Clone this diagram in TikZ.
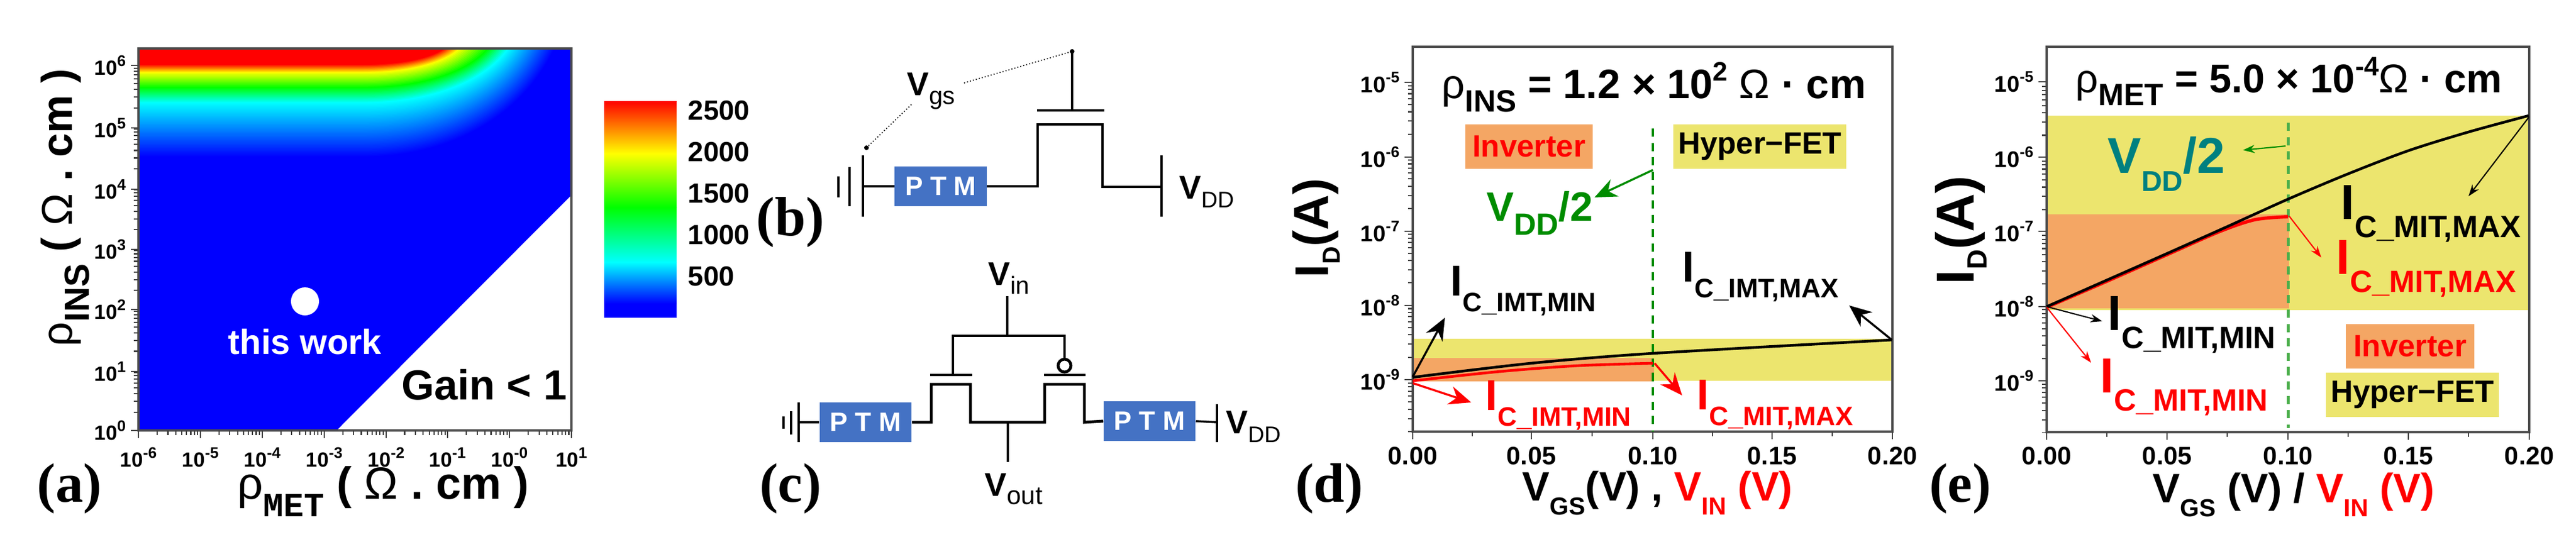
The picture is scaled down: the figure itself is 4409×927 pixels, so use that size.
\documentclass[tikz,border=0pt]{standalone}
\usepackage{fontspec}
\setmainfont{Liberation Sans}
\newfontfamily\timesb{Liberation Serif}
\newfontfamily\monob{Liberation Mono}
\usetikzlibrary{arrows.meta}

\definecolor{ptmblue}{RGB}{68,114,196}
\definecolor{bandyellow}{RGB}{236,229,110}
\definecolor{bandorange}{RGB}{244,166,100}
\definecolor{vgreen}{RGB}{0,140,0}
\definecolor{vteal}{RGB}{0,128,128}

\newcommand{\fsz}[1]{\fontsize{#1}{#1}\selectfont}
\newcommand{\pw}[1]{10\raisebox{0.42em}{\fsz{7.5}#1}}
\newcommand{\bigsub}[5]{{\fsz{#1}#4}\raisebox{-#3}{\fsz{#2}#5}}

\tikzset{
  panel/.style={font=\fsz{27}\timesb\bfseries, inner sep=0pt},
  ticka/.style={font=\fsz{10}\bfseries, inner sep=0pt},
  ticklab/.style={font=\fsz{11}\bfseries, inner sep=0pt},
  xticklab/.style={font=\fsz{12.3}\bfseries, inner sep=0pt},
  cblab/.style={font=\fsz{13.5}\bfseries, anchor=west, inner sep=0pt},
  lab/.style={font=\bfseries, anchor=base west, inner sep=0pt},
  ptm/.style={fill=ptmblue, text=white, font=\fsz{13}\bfseries, inner sep=0pt, minimum width=1.57cm, minimum height=.68cm},
  box/.style={font=\fsz{15}\bfseries, inner sep=0pt, minimum height=.75cm},
  wire/.style={line width=1.4pt, line join=miter},
  tk/.style={line width=.6pt, black!75},
  frame/.style={line width=1pt, black!70},
  fat/.style={line width=1pt, -{Stealth[length=.38cm,width=.32cm]}},
  slim/.style={line width=.6pt, -{Stealth[length=.2cm,width=.14cm]}},
}

\begin{document}
\begin{tikzpicture}[x=0.01cm,y=-0.01cm]
\useasboundingbox (0,0) rectangle (4409,927);

% (a) map
\fill[blue] (237,83) -- (976,83) -- (976,336) -- (576,737) -- (237,737) -- cycle;
\foreach \ya/\xa/\ra/\ga/\ba/\yb/\xb/\rb/\gb/\bb/\nn in {
  270/950/0/0/1/177/871/0/1/1/40,
  177/871/0/1/1/151/837/0/1/0/12,
  151/837/0/1/0/125/788/1/1/0/12,
  125/788/1/1/0/111/761/1/0/0/12}{
  \foreach \ii in {1,...,\nn}{
    \pgfmathsetmacro\tf{\ii/\nn}
    \pgfmathsetmacro\lev{\ya+(\yb-\ya)*\tf}
    \pgfmathsetmacro\xt{\xa+(\xb-\xa)*\tf}
    \pgfmathsetmacro\mr{\ra+(\rb-\ra)*\tf}
    \pgfmathsetmacro\mg{\ga+(\gb-\ga)*\tf}
    \pgfmathsetmacro\mb{\ba+(\bb-\ba)*\tf}
    \definecolor{levcol}{rgb}{\mr,\mg,\mb}
    \pgfmathsetmacro\ca{620+0.48*(\xt-620)}
    \pgfmathsetmacro\cb{\xt-0.16*(\xt-620)}
    \pgfmathsetmacro\cc{83+0.6*(\lev-83)}
    \fill[levcol] (237,83) -- (237,\lev) -- (620,\lev) .. controls (\ca,\lev) and (\cb,\cc) .. (\xt,83) -- cycle;
  }
}
\draw[frame] (237,83) rectangle (978,737);
\begin{scope}
\clip (215,83) rectangle (237,738);
\foreach \k in {0,...,6} \foreach \m in {2,...,9} \draw[tk] (237,{737-104.2*(\k+log10(\m))}) -- ++(-8,0);
\end{scope}
\begin{scope}
\clip (236,737) rectangle (979,760);
\foreach \k in {0,...,6} \foreach \m in {2,...,9} \draw[tk] ({237+105.9*(\k+log10(\m))},737) -- ++(0,8);
\end{scope}
\foreach \e/\yy in {0/737,1/636,2/530,3/427,4/324,5/219,6/112} {
  \draw[tk] (237,\yy) -- ++(-13,0);
  \node[ticka, anchor=east] (ay\e) at (216,\yy) {\pw{\e}};
}
\foreach \e/\xx in {6/237,5/343,4/449,3/555,2/661,1/766,0/872} {
  \draw[tk] (\xx,737) -- ++(0,13);
  \node[ticka] (ax\e) at (\xx,783) {\pw{-\e}};
}
\draw[tk] (978,737) -- ++(0,13);
\node[ticka] (axp) at (978,783) {\pw{1}};
\fill[white] (522,516) circle [radius=24];
\node[font=\fsz{17}\bfseries, text=white, inner sep=0pt] (work) at (522,585) {this work};
\node[font=\fsz{20.5}\bfseries, inner sep=0pt] (gain) at (829,659) {Gain < 1};
\foreach \ya/\yb/\cta/\ctb in {173/263/red/yellow, 263/355/yellow/green, 355/449/green/cyan, 449/520/cyan/blue}
  \shade[top color=\cta, bottom color=\ctb] (1034,\ya) rectangle (1158,\yb);
\fill[blue] (1034,520) rectangle (1158,544);
\foreach \t/\yy in {2500/189,2000/260,1500/331,1000/402,500/473}
  \node[cblab] (cb\t) at (1177,\yy) {\t};
\node[lab, rotate=90] (aylab) at (123,594) {\bigsub{21}{17}{.29cm}{\mdseries ρ}{INS}{\fsz{21} ( \mdseries Ω \bfseries . cm )}};
\node[lab] (axlab) at (406,854) {\bigsub{22}{16.5}{.3cm}{\mdseries ρ}{\monob MET}{\fsz{22} ( \mdseries Ω \bfseries . cm )}};
\node[panel] (pa) at (119,837) {(a)};

% (b) single device
\node[panel] (pb) at (1353,381) {(b)};
\node[ptm] (ptmb) at (1610,319) {P T M};
\coordinate (gatetop) at (1835,88);
\coordinate (gatebot) at (1835,189);
\coordinate (gndb) at (1477,319);
\coordinate (ddb) at (1988,320);
\draw[wire] (gatetop) -- (gatebot);
\draw[wire] (1775,189) -- (1890,189);
\draw[wire] (ptmb.east) -- (1776,319) -- (1776,213) -- (1887,213) -- (1887,320) -- (ddb);
\draw[wire] (gndb) -- (ptmb.west);
\draw[wire] (1988,266) -- (1988,371);
\draw[wire] (1477,266) -- (1477,371);
\draw[wire] (1454,286) -- (1454,353);
\draw[wire] (1435,302) -- (1435,338);
\node[lab] (vgs) at (1552,163) {\bigsub{16}{12}{.15cm}{V}{\mdseries gs}};
\node[lab] (vddb) at (2018,340) {\bigsub{16}{11}{.15cm}{V}{\mdseries DD}};
\coordinate (vgsa) at (1650,142);
\coordinate (vgsb) at (1560,179);
\coordinate (doth) at (1483,253);
\draw[line width=.5pt, densely dotted] (vgsa) -- (gatetop);
\draw[line width=.5pt, densely dotted] (vgsb) -- (doth);
\fill (doth) circle [radius=4];
\fill (gatetop) circle [radius=4];

% (c) inverter
\node[panel] (pc) at (1353,837) {(c)};
\node[ptm] (ptmc) at (1481.5,723) {P T M};
\node[ptm] (ptmd) at (1967.5,721) {P T M};
\node[lab] (vin) at (1691,488) {\bigsub{16}{12}{.15cm}{V}{\mdseries in}};
\node[lab] (vout) at (1685,849) {\bigsub{16}{12.5}{.14cm}{V}{\mdseries out}};
\node[lab] (vddc) at (2098,742) {\bigsub{16}{11}{.15cm}{V}{\mdseries DD}};
\coordinate (incoord) at (1724,507);
\coordinate (injoin) at (1724,575);
\coordinate (outjoin) at (1725,723);
\coordinate (outend) at (1725,791);
\draw[wire] (incoord) -- (injoin);
\draw[wire] (1631,642) -- (1631,575) -- (1822,575) -- (1822,615);
\draw[wire] (1822,626) circle [radius=11];
\draw[wire] (1592,642) -- (1664,642);
\draw[wire] (1787,642) -- (1858,642);
\draw[wire] (ptmc.east) -- (1594,723) -- (1594,658) -- (1661,658) -- (1661,723) -- (1788,723) -- (1788,658) -- (1856,658) -- (1856,723) -- (ptmd.west);
\draw[wire, line width=1pt] (outjoin) -- (outend);
\draw[wire, line width=1pt] (1369,723) -- (ptmc.west);
\draw[wire, line width=1pt] (ptmd.east) -- (2083,723);
\draw[wire] (2083,692) -- (2083,757);
\draw[wire] (1367,689) -- (1367,757);
\draw[wire] (1354,704) -- (1354,744);
\draw[wire] (1341,713) -- (1341,734);

% (d)
\fill[bandyellow] (2418,580) rectangle (3239,652);
\fill[bandorange] (2418,613) rectangle (2831,653);
\draw[frame] (2418,80) rectangle (3239,739);
\draw[line width=1pt, vgreen, dash pattern=on 4pt off 3pt] (2829,220) -- (2829,739);
\draw[line width=1.3pt, red] plot[smooth] coordinates {(2418,652) (2568,636) (2702,626) (2829,622)};
\draw[line width=1.3pt] plot[smooth] coordinates {(2418,646) (2620,622) (2829,605) (3238,582)};
\begin{scope}
\clip (2400,80) rectangle (2418,739);
\foreach \k in {-1,...,3} \foreach \m in {2,...,9} \draw[tk] (2418,{650-127.3*(\k+log10(\m))}) -- ++(-8,0);
\end{scope}
\foreach \e/\yy in {5/141,6/269,7/396,8/523,9/650} {
  \draw[tk] (2418,\yy) -- ++(-14,0);
  \node[ticklab, anchor=east] (dy\e) at (2396,\yy) {\pw{-\e}};
}
\foreach \t/\xx in {0.00/2418,0.05/2621,0.10/2829,0.15/3033,0.20/3239} {
  \draw[tk] (\xx,739) -- ++(0,13);
  \node[xticklab] (dx\xx) at (\xx,781) {\t};
}
\foreach \xx in {2520,2725,2931,3136} \draw[tk] (\xx,739) -- ++(0,8);
\node[lab] (dtitle) at (2467,168) {\bigsub{20}{15}{.23cm}{\mdseries ρ}{INS}{\fsz{20} = 1.2 × 10\raisebox{.42em}{\fsz{13}2} \mdseries Ω \bfseries· cm}};
\node[box, fill=bandorange, text=red, minimum width=2.18cm] (dinv) at (2617,251) {Inverter};
\node[box, fill=bandyellow, minimum width=2.96cm] (dhyp) at (3012,251) {Hyper−FET};
\node[lab, text=vgreen] (dvdd) at (2544,378) {\bigsub{20}{15}{.24cm}{V}{DD}{\fsz{20}/2}};
\node[lab] (dblmin) at (2482,506) {\bigsub{21}{13}{.27cm}{I}{C\_IMT,MIN}};
\node[lab] (dblmax) at (2879,482) {\bigsub{21}{13}{.27cm}{I}{C\_IMT,MAX}};
\node[lab, text=red] (drdmin) at (2542,702) {\bigsub{21}{13}{.27cm}{I}{C\_IMT,MIN}};
\node[lab, text=red] (drdmax) at (2904,701) {\bigsub{21}{13}{.27cm}{I}{C\_MIT,MAX}};
\coordinate (da) at (2418,645);  \coordinate (db) at (2473,544);
\coordinate (dc) at (3238,582);  \coordinate (dd) at (3165,523);
\coordinate (de) at (2418,656);  \coordinate (df) at (2518,689);
\coordinate (dg) at (2832,622);  \coordinate (dh) at (2879,677);
\coordinate (di) at (2829,291);  \coordinate (dj) at (2729,338);
\draw[fat] (da) -- (db);
\draw[fat] (dc) -- (dd);
\draw[fat, red] (de) -- (df);
\draw[fat, red] (dg) -- (dh);
\draw[fat, vgreen] (di) -- (dj);
\node[lab] (dxlab) at (2605,857) {\bigsub{20}{12}{.24cm}{V}{GS}{\fsz{20}(V) , \textcolor{red}{V}}\textcolor{red}{\raisebox{-.24cm}{\fsz{12}IN}\fsz{20} (V)}};
\node[lab, rotate=90] (dylab) at (2273,476) {\bigsub{23}{12}{.2cm}{I}{D}{\fsz{24}(A)}};
\node[panel] (pd) at (2275,837) {(d)};

% (e)
\fill[bandyellow] (3503,198) rectangle (4329,531);
\fill[bandorange] (3503,367) rectangle (3918,528);
\draw[frame] (3503,80) rectangle (4329,740);
\draw[line width=1.4pt, green!55!black!70, dash pattern=on 4pt off 3pt] (3916,210) -- (3916,733);
\draw[line width=1.6pt, red] plot[smooth] coordinates {(3503,526) (3605,482) (3709,436) (3800,396) (3860,376) (3916,371)};
\draw[line width=1.3pt] plot[smooth] coordinates {(3503,525) (3605,480) (3709,434) (3812,388) (3916,341) (4018,298) (4122,258) (4225,226) (4328,198)};
\begin{scope}
\clip (3485,80) rectangle (3503,740);
\foreach \k in {-1,...,3} \foreach \m in {2,...,9} \draw[tk] (3503,{652-127.4*(\k+log10(\m))}) -- ++(-8,0);
\end{scope}
\foreach \e/\yy in {5/140,6/269,7/396,8/525,9/652} {
  \draw[tk] (3503,\yy) -- ++(-14,0);
  \node[ticklab, anchor=east] (ey\e) at (3481,\yy) {\pw{-\e}};
}
\foreach \t/\xx in {0.00/3503,0.05/3709,0.10/3916,0.15/4122,0.20/4329} {
  \draw[tk] (\xx,740) -- ++(0,13);
  \node[xticklab] (ex\xx) at (\xx,781) {\t};
}
\foreach \xx in {3606,3812,4019,4225} \draw[tk] (\xx,740) -- ++(0,8);
\node[lab] (etitle) at (3552,158) {\bigsub{19.5}{15}{.22cm}{\mdseries ρ}{MET}{\fsz{19.5} = 5.0 × 10\raisebox{.42em}{\fsz{13}-4}\mdseries Ω \bfseries· cm}};
\node[lab, text=vteal] (evdd) at (3607,296) {\bigsub{24.5}{14}{.31cm}{V}{DD}{\fsz{24.5}/2}};
\node[lab] (eblmax) at (4006,375) {\bigsub{24}{15}{.31cm}{I}{C\_MIT,MAX}};
\node[lab, text=red] (erdmax) at (3998,469) {\bigsub{24}{15}{.31cm}{I}{C\_MIT,MAX}};
\node[lab] (eblmin) at (3607,565) {\bigsub{24}{15}{.31cm}{I}{C\_MIT,MIN}};
\node[lab, text=red] (erdmin) at (3594,672) {\bigsub{24}{15}{.31cm}{I}{C\_MIT,MIN}};
\node[box, fill=bandorange, text=red, minimum width=2.19cm] (einv) at (4125,593) {Inverter};
\node[box, fill=bandyellow, minimum width=2.95cm] (ehyp) at (4129,676) {Hyper−FET};
\coordinate (ea) at (4328,201);  \coordinate (eb) at (4225,336);
\coordinate (ec) at (3918,370);  \coordinate (ed) at (3973,441);
\coordinate (ee) at (3503,525);  \coordinate (ef) at (3598,550);
\coordinate (eg) at (3503,526);  \coordinate (eh) at (3579,621);
\coordinate (ei) at (3912,250);  \coordinate (ej) at (3839,257);
\draw[slim] (ea) -- (eb);
\draw[slim, red] (ec) -- (ed);
\draw[slim] (ee) -- (ef);
\draw[slim, red] (eg) -- (eh);
\draw[slim, vgreen] (ei) -- (ej);
\node[lab] (exlab) at (3684,860) {\bigsub{20}{12}{.24cm}{V}{GS}{\fsz{20} (V) / \textcolor{red}{V}}\textcolor{red}{\raisebox{-.24cm}{\fsz{12}IN}\fsz{20} (V)}};
\node[lab, rotate=90] (eylab) at (3378,488) {\bigsub{26}{13.5}{.22cm}{I}{D}{\fsz{26}(A)}};
\node[panel] (pe) at (3355,837) {(e)};
\end{tikzpicture}
\end{document}
